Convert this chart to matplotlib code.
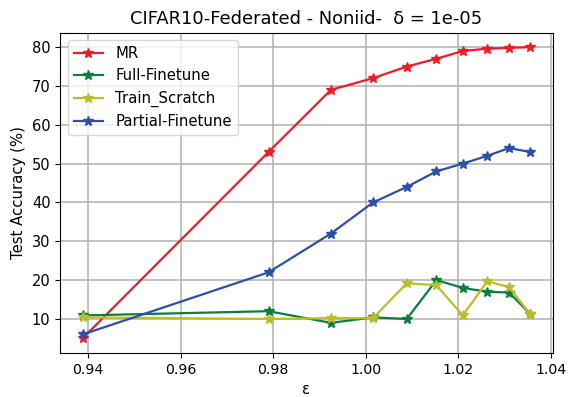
import matplotlib
matplotlib.use("Agg")
import matplotlib.pyplot as plt

eps = [0.9388, 0.9790, 0.9925, 1.0016, 1.0089, 1.0153, 1.0210, 1.0263, 1.0310, 1.0356]

mr = [5, 53, 69, 72, 75, 77, 79, 79.6, 79.8, 80]
full_finetune = [10.9, 12, 9, 10.4, 10, 20, 18, 17, 16.8, 11.3]
train_scratch = [10.4, 10, 10.2, 10.2, 19.2, 18.7, 10.9, 19.7, 18.2, 11.2]
partial_finetune = [6, 22, 32, 40, 44, 48, 50, 52, 54, 53]

labels = ["MR", "Full-Finetune", "Train_Scratch", "Partial-Finetune"]
colors = ["#ee1c25", "#0a7f3d", "#bcbd29", "#2b50a8"]

plt.rcParams["font.size"] = 10.7
plt.rcParams["xtick.labelsize"] = 10.2
plt.rcParams["ytick.labelsize"] = 10.5

fig, ax = plt.subplots(figsize=(5.68, 3.97), dpi=100)
fig.subplots_adjust(left=0.106, right=0.973, top=0.918, bottom=0.111)

for vals, lab, col in zip([mr, full_finetune, train_scratch, partial_finetune], labels, colors):
    ax.plot(eps, vals, marker="*", markersize=7.5, linewidth=1.6, color=col, label=lab)

ax.grid(True, color="#b0b0b0", linewidth=1.1)
ax.set_xticks([0.94, 0.96, 0.98, 1.00, 1.02, 1.04])
ax.set_yticks([10, 20, 30, 40, 50, 60, 70, 80])
ax.set_xlabel("ε")
ax.set_ylabel("Test Accuracy (%)")
ax.set_title("CIFAR10-Federated - Noniid-  δ = 1e-05")
ax.legend(loc="upper left")

plt.savefig("out.png", dpi=100)
